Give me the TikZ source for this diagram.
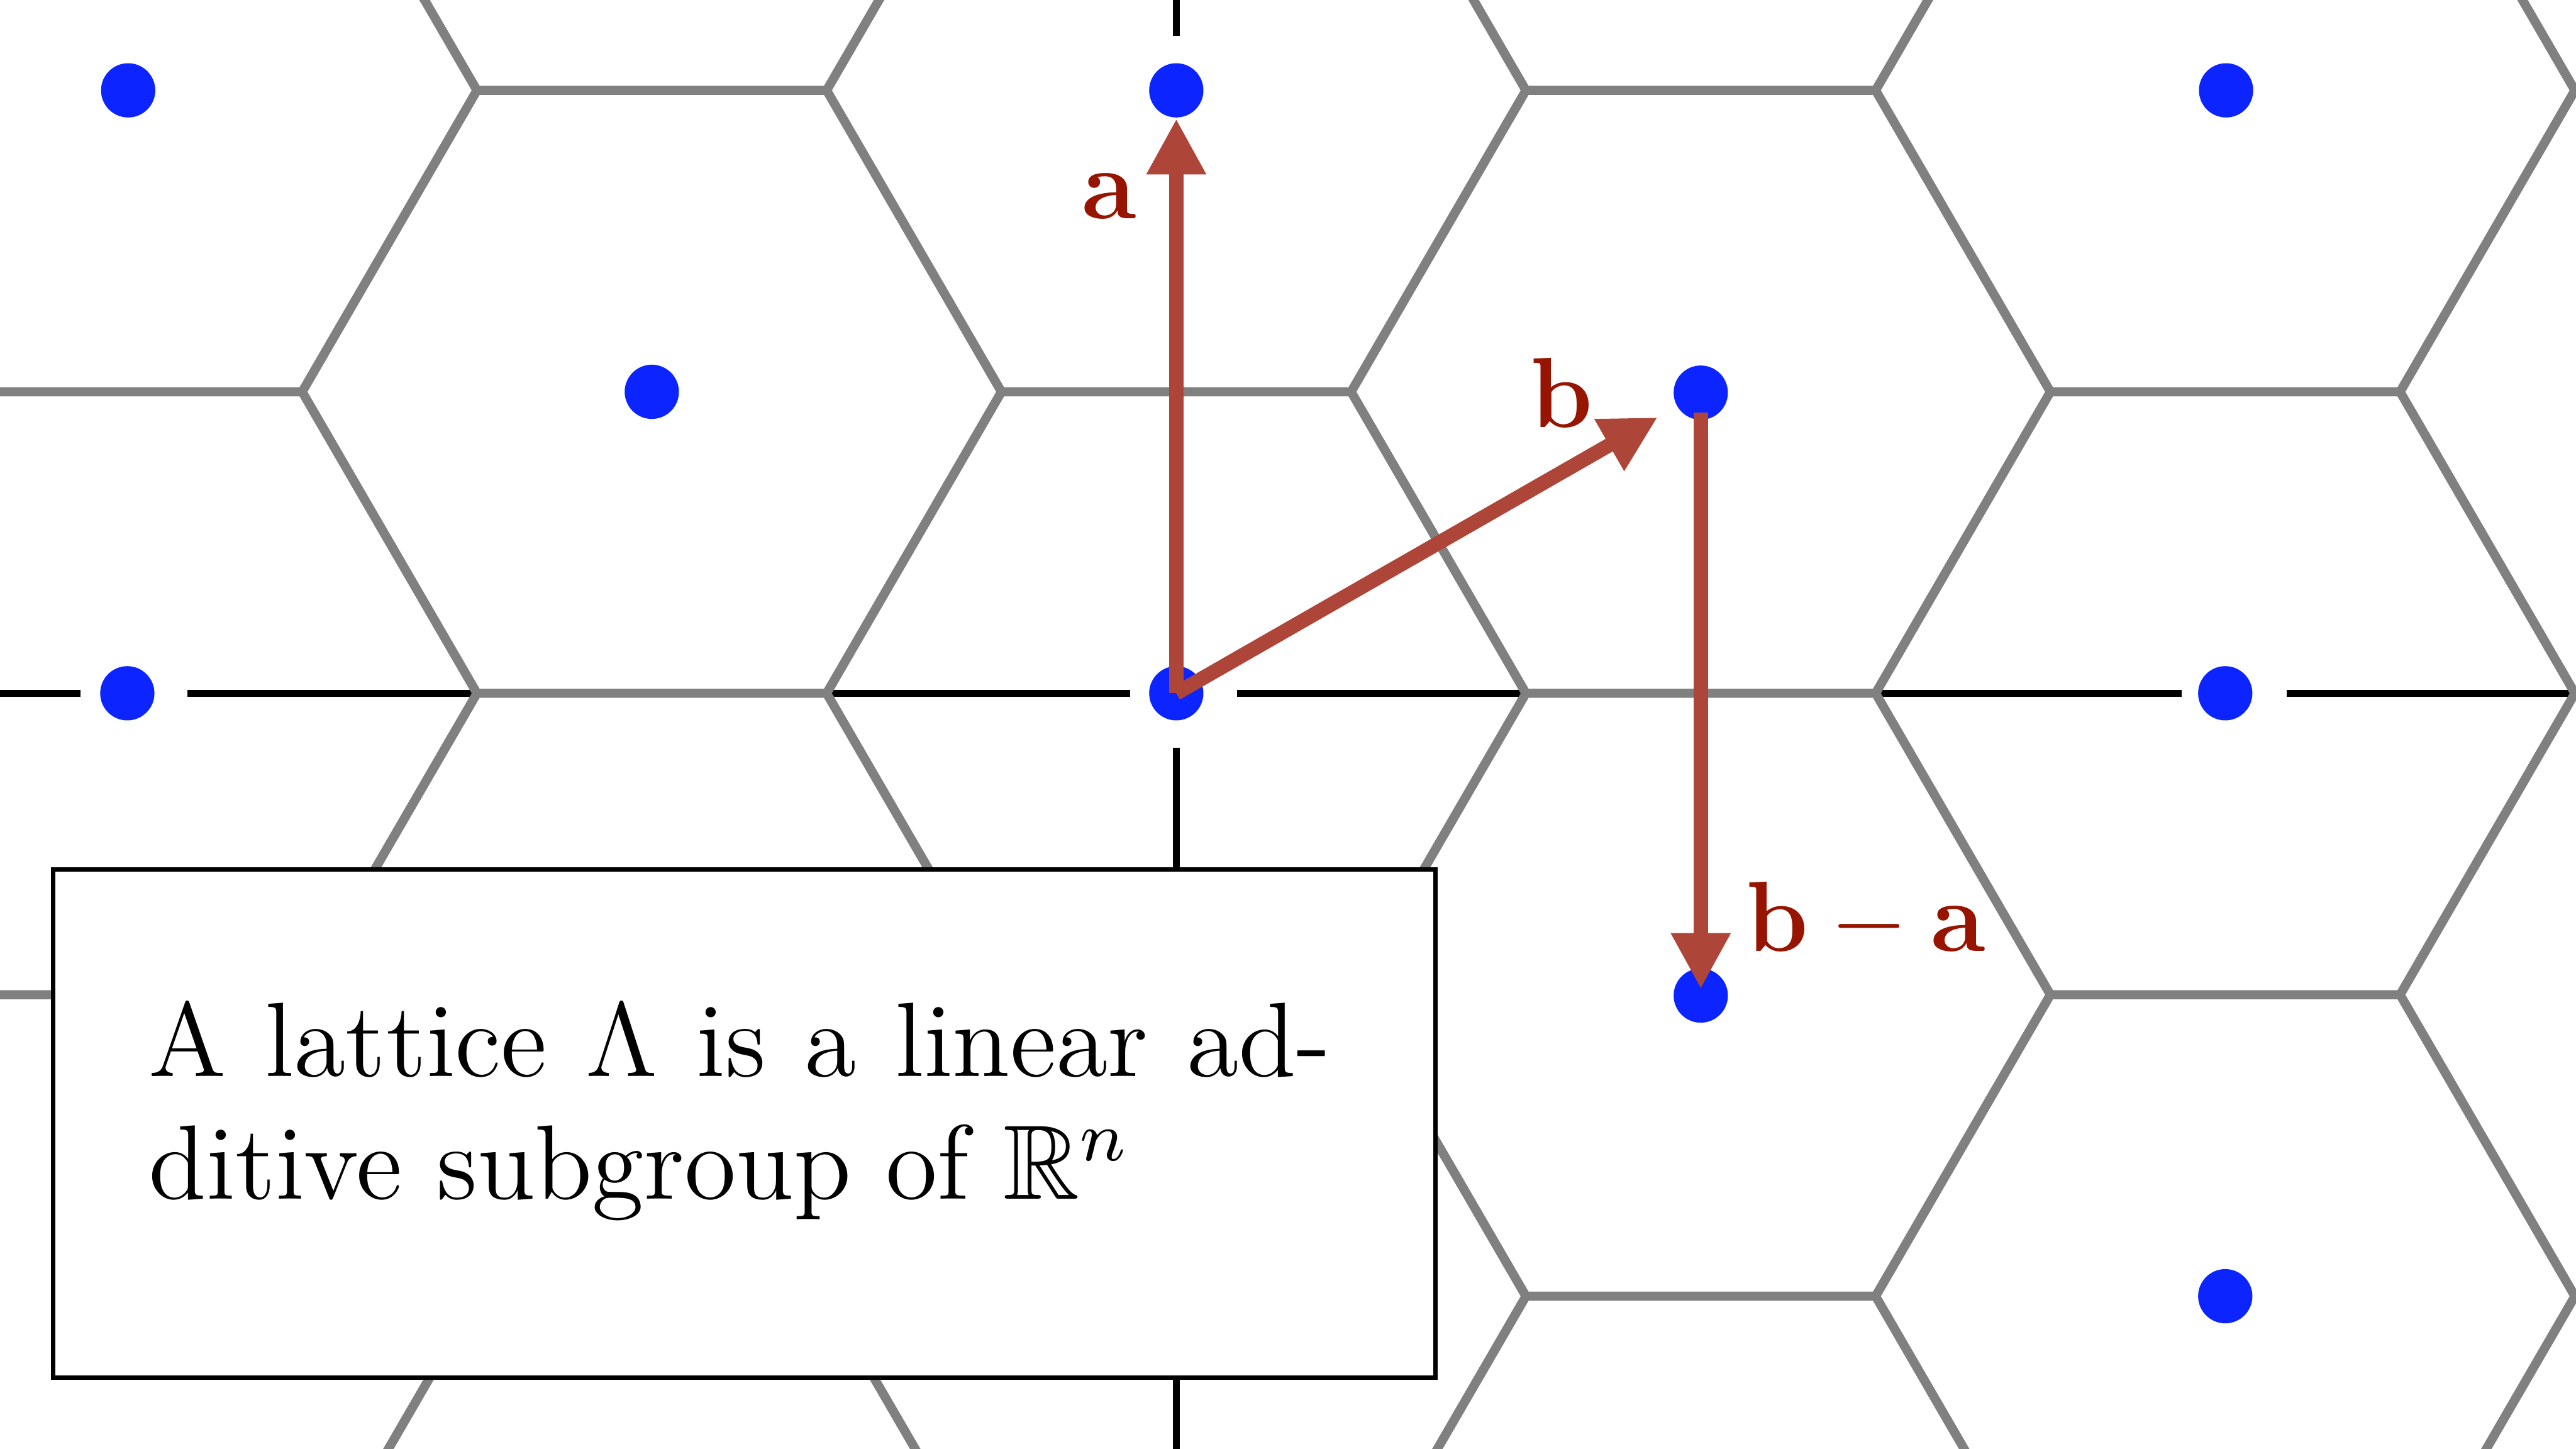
\documentclass[tikz,border=0pt]{standalone}
\usepackage{amssymb}
\usetikzlibrary{arrows.meta,calc}
\definecolor{dotblue}{RGB}{12,36,255}
\definecolor{arrowred}{RGB}{173,70,57}
\definecolor{labelred}{RGB}{150,20,0}
\definecolor{hexgrey}{RGB}{128,128,128}
\tikzset{
  hexline/.style={draw=hexgrey, line width=1.55pt, line join=miter},
  axisline/.style={draw=black, line width=1.15pt},
  latpt/.style={circle, fill=dotblue, inner sep=0pt, minimum size=0.33cm},
  vec/.style={draw=arrowred, line width=2.5pt, -{Triangle[length=0.34cm,width=0.34cm]}},
  vlabel/.style={text=labelred, inner sep=0pt, font=\fontsize{17}{20}\selectfont},
  infobox/.style={draw=black, line width=0.72pt, fill=white, inner sep=0pt, minimum width=8.41cm, minimum height=3.09cm},
  boxtext/.style={inner sep=0pt, font=\fontsize{12}{13.97}\selectfont}
}
\begin{document}
\begin{tikzpicture}[x=0.01cm, y=-0.01cm]
\useasboundingbox (0,0) rectangle (1568,882);
\fill[white] (0,0) rectangle (1568,882);
% axes
\draw[axisline] (0,422) -- (49,422);
\draw[axisline] (114,422) -- (688,422);
\draw[axisline] (753,422) -- (1328,422);
\draw[axisline] (1392,422) -- (1568,422);
\draw[axisline] (716,0) -- (716,22);
\draw[axisline] (716,87) -- (716,390);
\draw[axisline] (716,455) -- (716,882);
% Voronoi cells
\begin{scope}
\clip (0,0) rectangle (1568,882);
\foreach \i in {-3,...,4}{
  \foreach \j in {-5,...,4}{
    \pgfmathsetmacro\cx{716+319.25*\i}
    \pgfmathsetmacro\cy{422-183.5*\i-367*\j}
    \draw[hexline] (\cx+212.8,\cy) -- (\cx+106.4,\cy-183.5) -- (\cx-106.4,\cy-183.5)
      -- (\cx-212.8,\cy) -- (\cx-106.4,\cy+183.5) -- (\cx+106.4,\cy+183.5) -- cycle;
  }
}
\end{scope}
% lattice points
\node[latpt] (d1) at (78,55) {};
\node[latpt] (A) at (716,55) {};
\node[latpt] (d3) at (1355,55) {};
\node[latpt] (d4) at (396.75,238.5) {};
\node[latpt] (B) at (1035.25,239) {};
\node[latpt] (d6) at (77.5,422) {};
\node[latpt] (O) at (716,422) {};
\node[latpt] (d8) at (1354.5,422) {};
\node[latpt] (C) at (1035.25,606) {};
\node[latpt] (d10) at (1354.5,789) {};
% vectors
\draw[vec] (O.center) -- (A);
\draw[vec, shorten >=0.13cm] (O.center) -- (B);
\draw[vec, shorten <=0.12cm, shorten >=0.04cm] (B.center) -- (C.center);
\node[vlabel, anchor=base east] (la) at (692,133) {$\mathbf{a}$};
\node[vlabel, anchor=base west] (lb) at (931,260) {$\mathbf{b}$};
\node[vlabel, anchor=base west] (lba) at (1062,579) {$\mathbf{b}-\mathbf{a}$};
% text box
\node[infobox, anchor=north west] (box) at (31,528) {};
\node[boxtext, anchor=base west] (txt) at (90,655) {\scalebox{1.525}{\parbox[t]{5cm}{\makebox[4.715cm][s]{A lattice $\Lambda$ is a linear ad-}\\ditive subgroup of $\mathbb{R}^n$}}};
\end{tikzpicture}
\end{document}
